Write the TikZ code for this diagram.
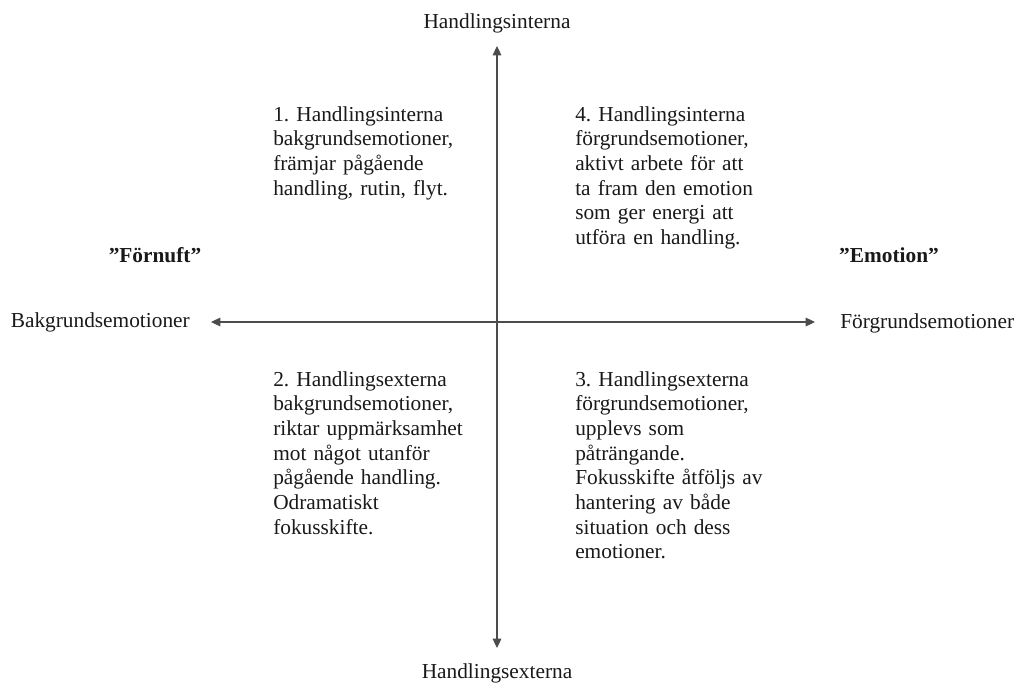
\documentclass[tikz,border=0pt]{standalone}
\usepackage{fontspec}
\setmainfont{Liberation Serif}
\usetikzlibrary{arrows.meta}
\frenchspacing
\begin{document}
\begin{tikzpicture}[x=0.75pt,y=-0.75pt,
  lbl/.style={font=\fontsize{16}{18.5}\selectfont, inner sep=0, anchor=base, text=black!90},
  boldlbl/.style={lbl, font=\fontsize{16}{18.5}\selectfont\bfseries},
  quad/.style={font=\fontsize{16}{18.5}\selectfont, inner sep=0, anchor=base west, text width=190pt, align=left, text=black!90},
  axis/.style={draw=black!70, line width=0.8pt, {Triangle[length=7pt,width=6.5pt]}-{Triangle[length=7pt,width=6.5pt]}}]
\useasboundingbox (0,0) rectangle (1016,683);
% axes
\coordinate (top) at (497,46);
\coordinate (bot) at (497,648);
\coordinate (lft) at (211,322);
\coordinate (rgt) at (815,322);
\draw[axis] (bot) -- (top);
\draw[axis] (lft) -- (rgt);
% axis labels
\node[lbl] (tl) at (497,28) {Handlingsinterna};
\node[lbl] (bl) at (497,678) {Handlingsexterna};
\node[lbl, anchor=base east] (ll) at (190,327) {Bakgrundsemotioner};
\node[lbl, anchor=base west] (rl) at (840,328) {Förgrundsemotioner};
\node[boldlbl] (forn) at (155,262) {”Förnuft”};
\node[boldlbl] (emo) at (889,262) {”Emotion”};
% quadrants
\node[quad] (q1) at (273,121) {1. Handlingsinterna\\bakgrundsemotioner,\\främjar pågående\\handling, rutin, flyt.};
\node[quad] (q4) at (575,121) {4. Handlingsinterna\\förgrundsemotioner,\\aktivt arbete för att\\ta fram den emotion\\som ger energi att\\utföra en handling.};
\node[quad] (q2) at (273,386) {2. Handlingsexterna\\bakgrundsemotioner,\\riktar uppmärksamhet\\mot något utanför\\pågående handling.\\Odramatiskt\\fokusskifte.};
\node[quad] (q3) at (575,386) {3. Handlingsexterna\\förgrundsemotioner,\\upplevs som\\påträngande.\\Fokusskifte åtföljs av\\hantering av både\\situation och dess\\emotioner.};
\end{tikzpicture}
\end{document}
